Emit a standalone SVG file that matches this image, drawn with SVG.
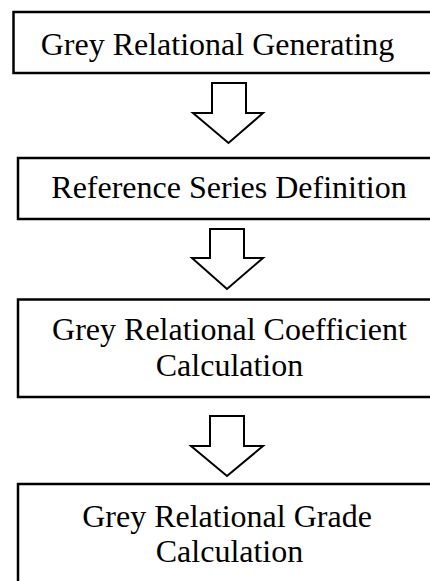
<svg xmlns="http://www.w3.org/2000/svg" width="430" height="581" viewBox="0 0 430 581">
<style>
.box{fill:#fff;stroke:#000;stroke-width:2.5}
.arr{fill:#fff;stroke:#000;stroke-width:2;stroke-linejoin:miter}
.t{font-family:'Liberation Serif','Times New Roman',Times,serif;font-size:32px;fill:#000;text-anchor:middle}
</style>
<rect width="430" height="581" fill="#fff"/>
<g id="node1">
<rect class="box" x="13.5" y="12" width="430" height="61"/>
<text class="t" font-family="Liberation Serif, serif" x="217.5" y="55">Grey Relational Generating</text>
</g>
<g id="node2">
<rect class="box" x="18" y="158" width="430" height="61"/>
<text class="t" font-family="Liberation Serif, serif" x="229" y="198">Reference Series Definition</text>
</g>
<g id="node3">
<rect class="box" x="18" y="299.5" width="430" height="97.5"/>
<text class="t" font-family="Liberation Serif, serif" x="229.5" y="340">Grey Relational Coefficient</text>
<text class="t" font-family="Liberation Serif, serif" x="229.5" y="375.5">Calculation</text>
</g>
<g id="node4">
<rect class="box" x="18" y="484" width="430" height="120"/>
<text class="t" font-family="Liberation Serif, serif" x="227" y="526.5">Grey Relational Grade</text>
<text class="t" font-family="Liberation Serif, serif" x="229.5" y="562">Calculation</text>
</g>
<g id="connectors">
<path class="arr" d="M212 83 H246 V113 H263 L228.5 143 L193 113 H212 Z"/>
<path class="arr" d="M210 229 H244 V258 H263 L227 289 L192 258 H210 Z"/>
<path class="arr" d="M210 416 H244 V446 H263 L227 476 L191 446 H210 Z"/>
</g>
</svg>
